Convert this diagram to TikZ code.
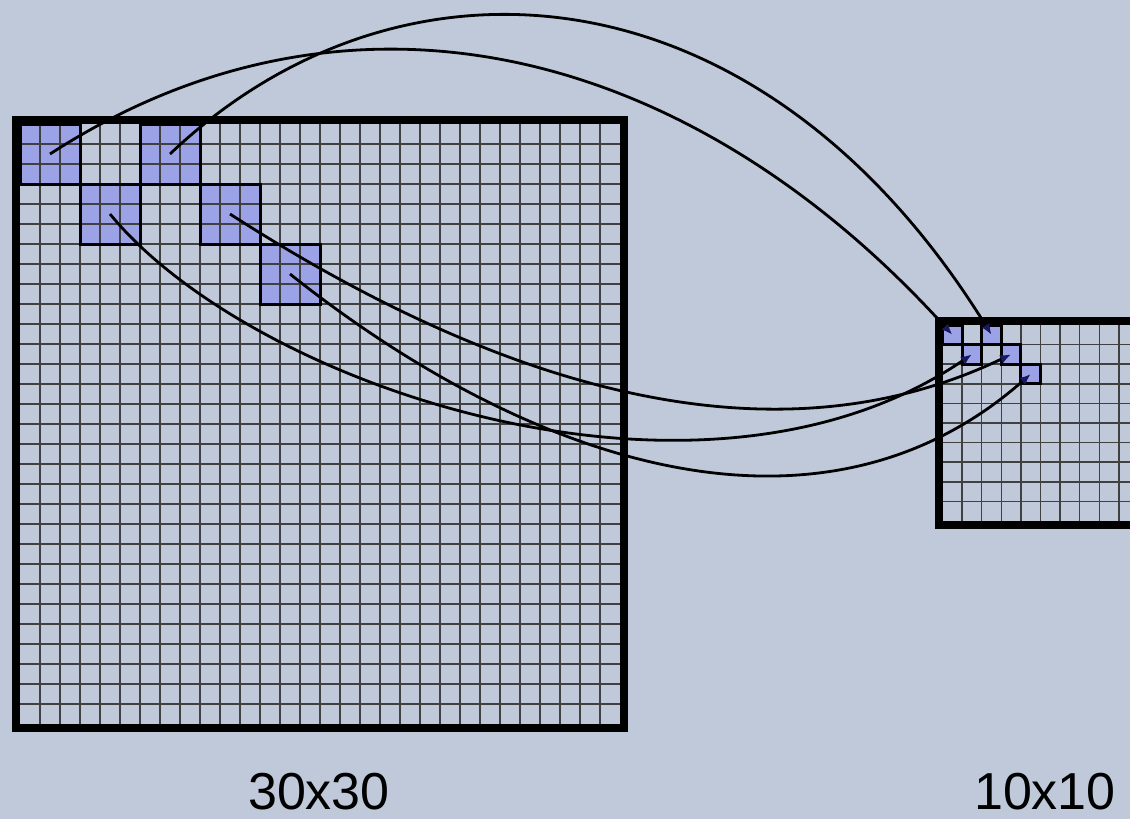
\documentclass[tikz,border=0pt]{standalone}
\usepackage{fontspec}
\setmainfont{Liberation Sans}
\usetikzlibrary{arrows.meta}
\definecolor{bgblue}{RGB}{191,201,218}
\definecolor{hlblue}{RGB}{155,163,230}
\definecolor{tipblue}{RGB}{25,25,95}
\tikzset{
  cell/.style={draw=black, line width=1.5pt, inner sep=0pt, outer sep=0pt},
  link/.style={line width=1.4pt, -{Latex[length=5.5pt,width=4.5pt,color=tipblue]}},
  frame/.style={line width=4pt},
  gridline/.style={black!75, line width=0.75pt},
  size/.style={font=\fontsize{26}{28}\selectfont, anchor=base, inner sep=0pt}
}

\begin{document}
\begin{tikzpicture}[x=0.5pt, y=-0.5pt]
  \useasboundingbox (0,0) rectangle (1130,819);
  \fill[bgblue] (0,0) rectangle (1130,819);
  \clip (0,0) rectangle (1130,819);
  % 30x30 input
  \foreach \c/\r in {0/0,3/3,6/0,9/3,12/6}
    \fill[hlblue] ({20+20*\c},{124+20*\r}) rectangle +(60,60);
  \foreach \k in {1,...,29} {
    \draw[gridline] ({20+20*\k},124) -- ({20+20*\k},724);
    \draw[gridline] (20,{124+20*\k}) -- (620,{124+20*\k});
  }
  \foreach \c/\r [count=\i] in {0/0,3/3,6/0,9/3,12/6}
    \node[cell, minimum size=30pt] (blk\i) at ({50+20*\c},{154+20*\r}) {};
  \draw[frame] (16,120) rectangle (624,728);
  % 10x10 output
  \foreach \c/\r in {0/0,1/1,2/0,3/1,4/2}
    \fill[hlblue] ({942.5+19.6*\c},{325+19.6*\r}) rectangle +(19.6,19.6);
  \foreach \k in {1,...,9} {
    \draw[gridline] ({942.5+19.6*\k},325) -- ({942.5+19.6*\k},521);
    \draw[gridline] (942.5,{325+19.6*\k}) -- (1138.5,{325+19.6*\k});
  }
  \foreach \c/\r [count=\i] in {0/0,1/1,2/0,3/1,4/2}
    \node[cell, minimum size=9.8pt] (px\i) at ({952.3+19.6*\c},{334.8+19.6*\r}) {};
  \draw[frame] (938.5,321) rectangle (1142.5,525);
  % links
  \draw[link] (blk1.center) .. controls (350,-40) and (690,45) .. (px1.center);
  \draw[link] (blk3.center) .. controls (400,-65) and (760,-40) .. (px3.center);
  \draw[link] (blk2.center) .. controls (250,385) and (700,540) .. (px2.center);
  \draw[link] (blk4.center) .. controls (480,375) and (760,475) .. (px4.center);
  \draw[link] (blk5.center) .. controls (530,465) and (820,560) .. (px5.center);
  \node[size] (lbl30) at (319,809) {30x30};
  \node[size] (lbl10) at (1045,809) {10x10};
\end{tikzpicture}
\end{document}
